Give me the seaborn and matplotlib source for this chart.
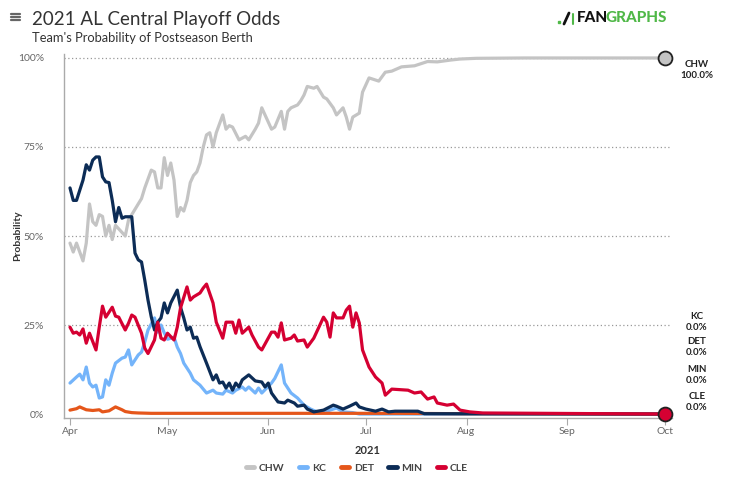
import pandas as pd
import seaborn as sns
import numpy as np
import matplotlib
matplotlib.use('Agg')
import matplotlib.pyplot as plt
import matplotlib.dates as mdates
from matplotlib.lines import Line2D

# Data: days since 2021-04-01 and playoff odds (%)
teams = ['CHW', 'KC', 'DET', 'MIN', 'CLE']
colors = ['#c4c4c4', '#74b4fa', '#e5561a', '#0c2c56', '#d50032']

chw_days = [0, 1, 2, 4, 5, 6, 7, 8, 9, 10, 11, 12, 13, 14, 15, 17, 18, 19, 21, 22, 23, 25, 26, 27, 28,
            29, 30, 31, 32, 33, 34, 35, 36, 37, 38, 39, 40, 41, 42, 43, 44, 45, 47, 48, 49, 50, 52, 54,
            55, 57, 58, 59, 62, 63, 65, 66, 67, 68, 70, 71, 72, 73, 75, 76, 78, 79, 81, 82, 84, 85, 86,
            87, 89, 90, 92, 95, 97, 99, 102, 106, 110, 113, 117, 120, 125, 140, 183]
chw_vals = [48, 45.5, 48, 43, 48, 59, 54, 53, 56, 55.5, 50, 53, 49, 53, 52, 50, 54.5, 56, 59, 60.5, 63.5,
            68.5, 68, 63.5, 63.5, 72, 67, 70.5, 65.7, 55.5, 58, 57, 60, 65, 67, 68, 70.5, 75, 78.4, 79,
            75, 79, 84, 80, 81, 80.6, 77, 78, 77, 80, 81.7, 86, 80, 80.6, 85, 80, 85, 86, 86.8, 88, 89.6,
            92, 91.5, 92, 89, 88.5, 86, 84, 86, 83.4, 80, 83.4, 84.5, 90.4, 94.4, 93.5, 96, 96.3, 97.5,
            97.8, 99, 98.9, 99.4, 99.7, 99.9, 100, 100]

kc_days = [0, 2, 3, 4, 5, 6, 7, 8, 9, 10, 11, 12, 13, 14, 16, 17, 18, 19, 21, 22, 23, 24, 26, 27, 28, 29,
           30, 32, 33, 34, 35, 37, 38, 40, 42, 44, 45, 47, 48, 50, 51, 53, 54, 55, 57, 58, 59, 62, 63,
           65, 66, 68, 70, 72, 74, 76, 79, 82, 84, 87, 89, 183]
kc_vals = [8.7, 10.4, 11.2, 9.6, 13.2, 8.7, 7.6, 8.1, 4.5, 4.8, 9.6, 8.1, 11.5, 14.3, 15.7, 16, 18, 13.8,
           16.6, 17.4, 20.2, 23.6, 27, 23, 25, 22.8, 21, 21.6, 18.8, 17, 14.3, 11.5, 9.6, 8.1, 5.9, 6.7,
           5.9, 5.6, 6.7, 5.9, 6.7, 7.6, 6.7, 7.6, 5.9, 7.3, 5.9, 8.7, 10, 13.8, 8.7, 5.9, 4.5, 2.5, 1.4,
           0.6, 0.8, 1.7, 0.6, 0.4, 0, 0]

det_days = [0, 2, 3, 5, 7, 9, 10, 12, 14, 16, 17, 19, 21, 25, 60, 100, 120, 183]
det_vals = [1.1, 1.5, 2.0, 1.2, 1.0, 1.2, 0.6, 0.9, 2.0, 1.2, 0.7, 0.4, 0.3, 0.2, 0.2, 0.2, 0.1, 0.0]

min_days = [0, 1, 2, 4, 5, 6, 7, 8, 9, 10, 11, 12, 13, 14, 15, 16, 17, 19, 20, 21, 22, 23, 24, 25, 26,
            27, 28, 29, 30, 31, 33, 34, 35, 36, 37, 38, 39, 40, 42, 44, 45, 46, 47, 48, 49, 50, 51, 52,
            53, 55, 57, 59, 60, 61, 62, 64, 66, 67, 69, 70, 72, 73, 75, 78, 81, 82, 84, 86, 88, 89, 91,
            94, 96, 98, 100, 107, 109, 183]
min_vals = [63.5, 60, 60, 65.7, 70, 68.5, 71.3, 72.2, 72.2, 66.6, 65.2, 65, 60, 54, 58, 55, 55.4, 55.4,
            45.2, 43.3, 42.7, 37.6, 32, 27.3, 23.6, 25.8, 27, 31.2, 28.4, 31.2, 34.8, 30, 27, 23.6, 24.4,
            21.3, 21.6, 18.9, 14.3, 9.6, 11, 8.7, 9, 7.3, 8.7, 6.7, 8.7, 7.6, 9.6, 11, 9.3, 9, 7.6, 8.7,
            5.9, 3.4, 3.1, 3.9, 3.1, 2.2, 2.5, 1.4, 0.6, 1.1, 2.5, 2.2, 1.4, 2.2, 3.1, 2, 1.4, 0.8, 1.4,
            0.6, 0.8, 0.8, 0.1, 0]

cle_days = [0, 1, 2, 3, 4, 5, 6, 8, 9, 10, 11, 13, 14, 15, 17, 18, 19, 20, 22, 23, 24, 26, 27, 28, 29,
            30, 32, 33, 34, 36, 37, 38, 40, 41, 42, 44, 45, 47, 48, 50, 51, 52, 53, 55, 56, 58, 59, 62,
            63, 64, 65, 66, 68, 69, 70, 72, 73, 75, 78, 79, 80, 81, 82, 84, 85, 86, 87, 88, 89, 90, 92,
            94, 96, 97, 99, 104, 106, 108, 110, 112, 113, 116, 118, 120, 123, 127, 183]
cle_vals = [24.4, 22.7, 23, 22.2, 23.9, 19.9, 22.7, 18, 24.4, 30.3, 27.2, 30, 27.5, 27.2, 23.6, 25.5,
            27.8, 27.2, 22.7, 18.5, 17, 20.8, 25.8, 21.3, 20.8, 22.7, 20.8, 24.4, 29.8, 35.7, 32, 32.9,
            34, 35.4, 36.5, 31.2, 25.8, 21.3, 25.8, 25.8, 22.7, 26.4, 22.7, 24.4, 22.2, 18.8, 18, 23, 23,
            21.6, 25.6, 20.8, 21.3, 22.2, 20.5, 20.8, 18.8, 21.3, 27.2, 25.8, 21.6, 28.4, 27, 27, 29.2,
            30.3, 24.4, 28.4, 25.6, 18, 13.2, 10.4, 8.7, 5.3, 7, 6.7, 5.9, 6.2, 4.2, 4.8, 3.1, 2.5, 2.8,
            1.1, 0.6, 0.3, 0]

start = pd.Timestamp('2021-04-01')
series = {'CHW': (chw_days, chw_vals), 'KC': (kc_days, kc_vals), 'DET': (det_days, det_vals),
          'MIN': (min_days, min_vals), 'CLE': (cle_days, cle_vals)}
frames = []
for t in teams:
    d, v = series[t]
    frames.append(pd.DataFrame({'date': start + pd.to_timedelta(d, unit='D'), 'prob': v, 'team': t}))
df = pd.concat(frames, ignore_index=True)

sns.set_theme(style='white')
plt.rcParams['font.family'] = ['Lato', 'DejaVu Sans']

fig = plt.figure(figsize=(7.48, 4.80), dpi=100)
ax = fig.add_axes([63.5 / 748, 1 - 417.6 / 480, 608.5 / 748, 363.2 / 480])

for y in [25, 50, 75, 100]:
    ax.axhline(y, color='#999999', lw=0.9, ls=(0, (1, 2)), zorder=0)

sns.lineplot(data=df, x='date', y='prob', hue='team', hue_order=teams, palette=colors,
             linewidth=2.3, ax=ax, legend=False)

end = df['date'].max()
ax.plot([end], [chw_vals[-1]], 'o', ms=10, mfc='#c4c4c4', mec='#222222', mew=1.3, clip_on=False, zorder=6)
ax.plot([end], [cle_vals[-1]], 'o', ms=10, mfc='#d50032', mec='#222222', mew=1.3, clip_on=False, zorder=6)

ax.set_xlim(pd.Timestamp('2021-03-30'), pd.Timestamp('2021-10-03 05:00'))
ax.set_ylim(-1, 101)
ax.set_yticks([0, 25, 50, 75, 100])
ax.set_yticklabels(['0%', '25%', '50%', '75%', '100%'])
ax.xaxis.set_major_locator(mdates.MonthLocator())
ax.xaxis.set_major_formatter(mdates.DateFormatter('%b'))
ax.tick_params(axis='x', which='major', bottom=True, length=5, width=0.8, color='#aaaaaa',
               labelsize=7.5, labelcolor='#666666', pad=2)
ax.tick_params(axis='y', left=False, labelsize=7.5, labelcolor='#666666', pad=8)
for s in ['top', 'right']:
    ax.spines[s].set_visible(False)
for s in ['left', 'bottom']:
    ax.spines[s].set_color('#aaaaaa')
    ax.spines[s].set_linewidth(1)
ax.set_xlabel('2021', fontsize=8, fontweight='bold', color='#333333', labelpad=6)
ax.set_ylabel('Probability', fontsize=7.5, fontweight='bold', color='#333333')
ax.yaxis.set_label_coords((22 - 63.5) / 608.5, 0.5)

# right-hand labels with the final odds
last = {'CHW': chw_vals[-1], 'KC': kc_vals[-1], 'DET': det_vals[-1], 'MIN': min_vals[-1], 'CLE': cle_vals[-1]}
label_px = {'CHW': 70, 'KC': 322, 'DET': 347, 'MIN': 375, 'CLE': 402}
for t in teams:
    fig.text(697 / 748, 1 - label_px[t] / 480, '%s\n%.1f%%' % (t, last[t]), ha='center', va='center',
             fontsize=7, fontweight='bold', color='#222222', linespacing=1.3)

# title block
fig.text(32 / 748, 1 - 19 / 480, '2021 AL Central Playoff Odds', fontsize=13.5, color='#333333',
         va='center', ha='left')
fig.text(32 / 748, 1 - 37.5 / 480, "Team's Probability of Postseason Berth", fontsize=9.3, color='#333333',
         va='center', ha='left')
for yy in [13.5, 16.5, 19.5]:
    fig.add_artist(Line2D([11 / 748, 20 / 748], [1 - yy / 480] * 2, color='#666666', lw=1.6))

# logo
fig.text(577 / 748, 1 - 18.5 / 480, 'FAN', fontsize=11, fontweight='black', color='#111111',
         va='center', ha='left')
fig.text(606 / 748, 1 - 18.5 / 480, 'GRAPHS', fontsize=11, fontweight='black', color='#50b848',
         va='center', ha='left')
fig.add_artist(Line2D([559 / 748], [1 - 22 / 480], marker='s', ms=2, color='#50b848'))
fig.add_artist(Line2D([564 / 748, 569 / 748], [1 - 24 / 480, 1 - 13 / 480], color='#111111', lw=2))
fig.add_artist(Line2D([573 / 748, 573 / 748], [1 - 24 / 480, 1 - 14 / 480], color='#50b848', lw=1.5))

# legend
handles = [Line2D([0], [0], color=c, lw=3.5) for c in colors]
leg = fig.legend(handles, teams, loc='center', bbox_to_anchor=(357 / 748, 1 - 468 / 480), ncol=5,
                 frameon=False, handlelength=0.8, handletextpad=0.45, columnspacing=1.4,
                 prop={'size': 7.5, 'weight': 'bold'})
for txt in leg.get_texts():
    txt.set_color('#444444')

fig.savefig('out.png', dpi=100)
